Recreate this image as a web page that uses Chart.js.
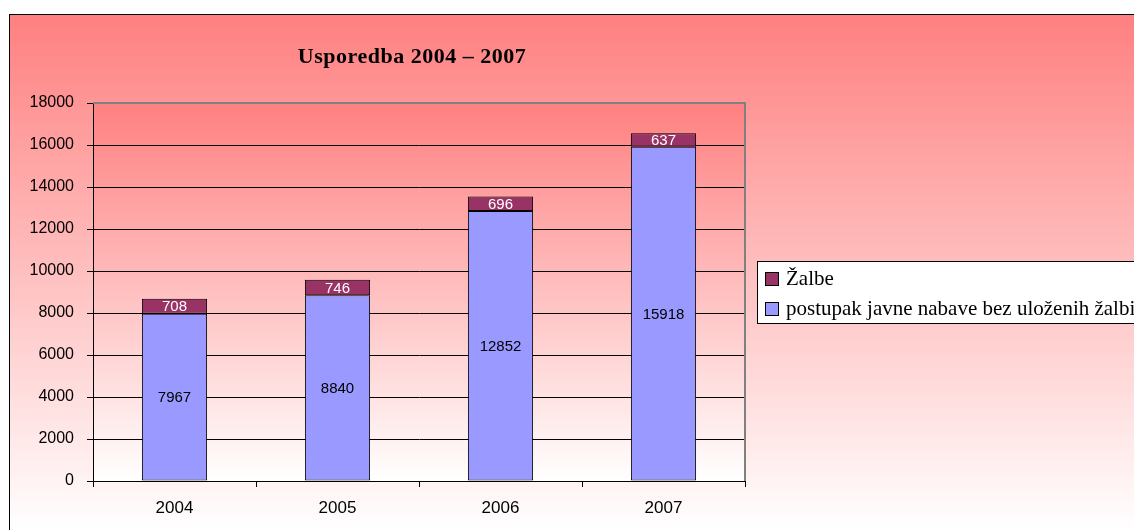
<!DOCTYPE html>
<html>
<head>
<meta charset="utf-8">
<script src="https://cdn.jsdelivr.net/npm/chart.js@4/dist/chart.umd.min.js"></script>
<style>
  body { margin: 0; background: #fff; }
  #wrap { width: 1134px; height: 530px; position: relative; }
</style>
</head>
<body>
<div id="wrap"><canvas id="grafico" width="1134" height="530"></canvas></div>
<script>
const godine = ['2004', '2005', '2006', '2007'];
const bezZalbi = [7967, 8840, 12852, 15918];
const zalbe = [708, 746, 696, 637];
const naslov = 'Usporedba 2004 \u2013 2007';

const plavo = '#9999FF';
const bordo = '#993366';

const pozadina = {
    id: 'pozadina',
    beforeDraw(chart) {
        const ctx = chart.ctx;
        const ca = chart.chartArea;
        ctx.save();
        // vanjski gradijent
        let g = ctx.createLinearGradient(0, 15, 0, 530);
        g.addColorStop(0, '#FF8080');
        g.addColorStop(1, '#FFFFFF');
        ctx.fillStyle = g;
        ctx.fillRect(10, 15, 1124, 515);
        ctx.strokeStyle = '#000';
        ctx.lineWidth = 1;
        ctx.strokeRect(9.5, 14.5, 1140, 530);

        // podrucje grafa
        g = ctx.createLinearGradient(0, ca.top, 0, ca.bottom);
        g.addColorStop(0, '#FF8080');
        g.addColorStop(1, '#FFFFFF');
        ctx.fillStyle = g;
        ctx.fillRect(ca.left, ca.top, ca.right - ca.left, ca.bottom - ca.top);

        // naslov
        ctx.fillStyle = '#000';
        ctx.font = 'bold 22px "Liberation Serif"';
        ctx.letterSpacing = '0.5px';
        ctx.textAlign = 'center';
        ctx.textBaseline = 'middle';
        ctx.fillText(naslov, 412, 57);
        ctx.letterSpacing = '0px';
        ctx.restore();
    },
    afterDraw(chart) {
        const ctx = chart.ctx;
        const ca = chart.chartArea;
        ctx.save();
        // sivi okvir gore i desno
        ctx.strokeStyle = '#808080';
        ctx.lineWidth = 2;
        ctx.beginPath();
        ctx.moveTo(ca.left, ca.top);
        ctx.lineTo(ca.right, ca.top);
        ctx.lineTo(ca.right, ca.bottom);
        ctx.stroke();

        // oznake vrijednosti
        ctx.textAlign = 'center';
        ctx.textBaseline = 'middle';
        ctx.font = '15px "Liberation Sans"';
        chart.data.datasets.forEach((ds, i) => {
            const meta = chart.getDatasetMeta(i);
            meta.data.forEach((bar, j) => {
                ctx.fillStyle = i === 0 ? '#000' : '#fff';
                ctx.fillText(String(ds.data[j]), bar.x, (bar.y + bar.base) / 2 + 1);
            });
        });

        // legenda
        ctx.fillStyle = '#fff';
        ctx.fillRect(757, 261, 400, 62);
        ctx.strokeStyle = '#000';
        ctx.lineWidth = 1;
        ctx.strokeRect(757.5, 261.5, 400, 62);
        const stavke = [
            { tekst: chart.data.datasets[1].label, boja: bordo, y: 279 },
            { tekst: chart.data.datasets[0].label, boja: plavo, y: 309 }
        ];
        ctx.font = '21px "Liberation Serif"';
        ctx.textAlign = 'left';
        ctx.textBaseline = 'alphabetic';
        stavke.forEach(s => {
            ctx.fillStyle = s.boja;
            ctx.fillRect(765, s.y - 7, 14, 14);
            ctx.strokeRect(765.5, s.y - 6.5, 13, 13);
            ctx.fillStyle = '#000';
            ctx.fillText(s.tekst, 786, s.y + 6);
        });
        ctx.restore();
    }
};

new Chart(document.getElementById('grafico'), {
    type: 'bar',
    data: {
        labels: godine,
        datasets: [
            {
                label: 'postupak javne nabave bez uloženih žalbi',
                data: bezZalbi,
                backgroundColor: plavo,
                borderColor: '#000',
                borderWidth: 1,
                borderSkipped: false
            },
            {
                label: 'Žalbe',
                data: zalbe,
                backgroundColor: bordo,
                borderColor: '#000',
                borderWidth: 1,
                borderSkipped: false
            }
        ]
    },
    options: {
        responsive: false,
        animation: false,
        events: [],
        layout: { padding: { left: 10, top: 103, right: 389, bottom: 0 } },
        datasets: { bar: { categoryPercentage: 1, barPercentage: 0.4 } },
        plugins: {
            legend: { display: false },
            title: { display: false },
            tooltip: { enabled: false }
        },
        scales: {
            x: {
                stacked: true,
                afterFit(scale) { scale.height = 49; },
                grid: { drawOnChartArea: false, drawTicks: true, tickLength: 6, color: '#000' },
                border: { color: '#000', width: 1 },
                ticks: { color: '#000', font: { family: 'Liberation Sans', size: 17 }, padding: 11 }
            },
            y: {
                stacked: true,
                min: 0,
                max: 18000,
                afterFit(scale) { scale.width = 83; },
                grid: { color: '#000', lineWidth: 1, drawTicks: true, tickLength: 6 },
                border: { color: '#000', width: 1 },
                ticks: {
                    stepSize: 2000,
                    color: '#000',
                    font: { family: 'Liberation Sans', size: 16 },
                    padding: 13,
                    callback: v => String(v)
                }
            }
        }
    },
    plugins: [pozadina]
});
</script>
</body>
</html>
